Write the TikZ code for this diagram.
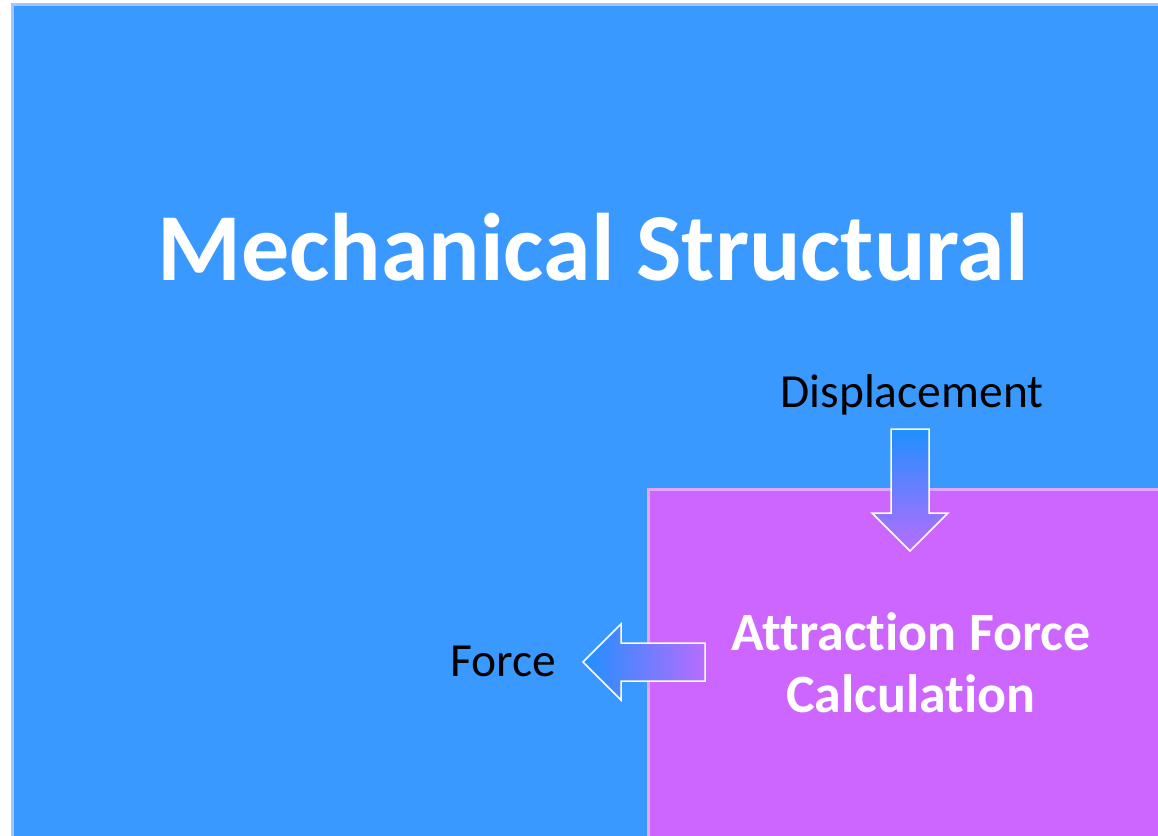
\documentclass[tikz,border=0pt]{standalone}
\usepackage{fontspec}
\setmainfont{Carlito}[Ligatures=NoCommon]

\definecolor{mblue}{HTML}{3999FF}
\definecolor{mbluerim}{HTML}{9CC8FF}
\definecolor{apurple}{HTML}{CC66FF}
\definecolor{apurplerim}{HTML}{E2A6FF}
\definecolor{arrblue}{HTML}{1E90FF}
\definecolor{arrpurple}{HTML}{B86CFF}

\begin{document}
\begin{tikzpicture}[
  x=1pt, y=-1pt,
  every node/.style={inner sep=0pt},
  bigtext/.style={text=white, font=\fontsize{96}{115}\selectfont\bfseries},
  boxtext/.style={text=white, font=\fontsize{54}{62}\selectfont\bfseries, align=center},
  portlabel/.style={text=black, font=\fontsize{47.5}{57}\selectfont},
  blockarrow/.style={draw=white, line width=1.5pt, line join=miter},
]

\useasboundingbox (0,0) rectangle (1158,835);

% the two domains
\fill[mblue] (11,3) rectangle (1170,850);
\draw[mbluerim, line width=3pt] (12.5,850) -- (12.5,4.5) -- (1170,4.5);
\fill[apurple] (647,488) rectangle (1170,850);
\draw[apurplerim, line width=3pt] (648.5,850) -- (648.5,489.5) -- (1170,489.5);

% labels
\node[bigtext, anchor=base] (mech) at (593,280) {Mechanical Structural};
\node[boxtext] (calc) at (911,663) {Attraction Force\\Calculation};
\node[portlabel, anchor=base] (disp) at (912,407) {Displacement};
\node[portlabel, anchor=base] (force) at (503,676) {Force};

% displacement goes in
\path[blockarrow, top color=arrblue, bottom color=arrpurple]
  (891,429) -- (929,429) -- (929,513) -- (948,513) -- (910,551)
  -- (872,513) -- (891,513) -- cycle;

% force comes out
\path[blockarrow, left color=arrblue, right color=arrpurple]
  (705,643) -- (705,681) -- (621,681) -- (621,700) -- (583,662)
  -- (621,624) -- (621,643) -- cycle;

\end{tikzpicture}
\end{document}
